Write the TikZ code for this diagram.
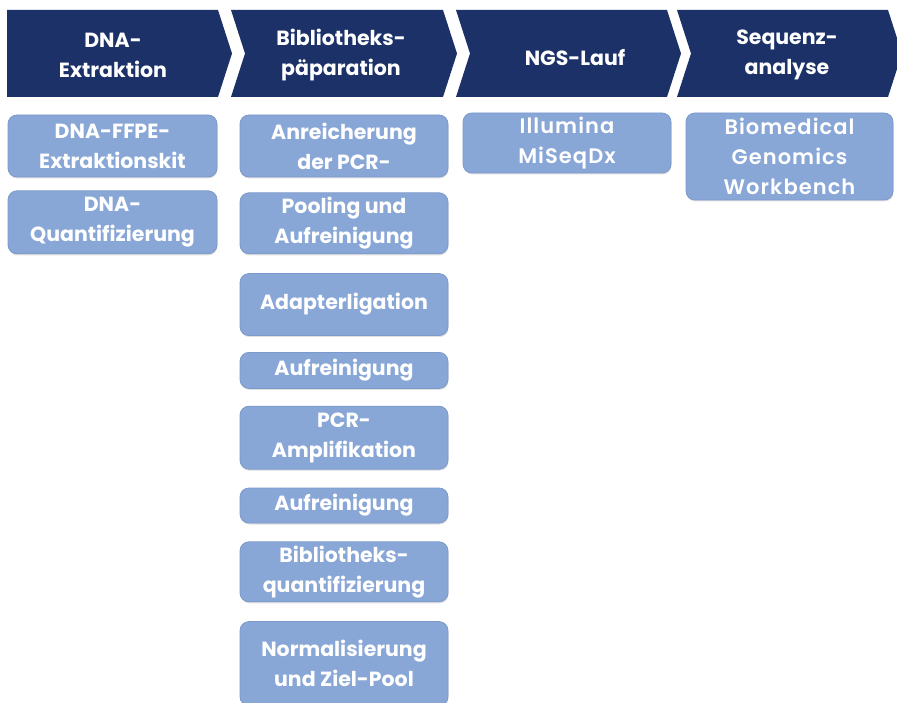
\documentclass[tikz,border=0pt]{standalone}
\usepackage{fontspec}
\setmainfont{Poppins}[BoldFont={Poppins Bold}]
\newfontfamily\spacedfont{Poppins SemiBold}[LetterSpace=5]
\usetikzlibrary{positioning,shadows}
\definecolor{qiaNavy}{HTML}{1C3168}
\definecolor{qiaBlue}{HTML}{88A6D6}
\definecolor{qiaEdge}{HTML}{7B99CB}

\tikzset{
  stage/.style={fill=qiaNavy},
  stagelabel/.style={text=white,font=\bfseries\fontsize{20.5}{30}\selectfont,align=center},
  box/.style={draw=qiaEdge,fill=qiaBlue,line width=0.8pt,rounded corners=9pt,
              text=white,font=\bfseries\fontsize{20.5}{30}\selectfont,align=center,
              inner sep=2pt,minimum width=208pt,
              drop shadow={shadow xshift=0.5pt,shadow yshift=-1.5pt,opacity=0.25}},
  spaced/.style={font=\spacedfont\fontsize{21}{30}\selectfont},
}

\begin{document}
\begin{tikzpicture}[x=1pt,y=-1pt]
  \useasboundingbox (0,0) rectangle (897,703);

  % header chevrons
  \fill[stage] (7,10) -- (218,10) -- (232,53.5) -- (218,97) -- (7,97) -- cycle;
  \fill[stage] (231,10) -- (443,10) -- (457,53.5) -- (443,97) -- (231,97) -- (245,53.5) -- cycle;
  \fill[stage] (456,10) -- (667,10) -- (681,53.5) -- (667,97) -- (456,97) -- (470,53.5) -- cycle;
  \fill[stage] (677,10) -- (888,10) -- (902,53.5) -- (888,97) -- (677,97) -- (691,53.5) -- cycle;

  \node[stagelabel] (h1) at (113,55) {DNA-\\Extraktion};
  \node[stagelabel] (h2) at (341,55) {Bibliotheks-\\päparation};
  \node[stagelabel] (h3) at (575,58) {NGS-Lauf};
  \node[stagelabel] (h4) at (787,55) {Sequenz-\\analyse};

  % DNA-Extraktion
  \node[box,minimum width=209pt,minimum height=62pt] (ffpe) at (112.5,146) {DNA-FFPE-\\Extraktionskit};
  \node[box,minimum width=209pt,minimum height=63pt,below=13pt of ffpe] (quant) {DNA-\\Quantifizierung};

  % Bibliothekspraeparation
  \node[box,minimum height=62pt] (anr) at (344,146) {Anreicherung\\der PCR-};
  \node[box,minimum height=61pt,below=15pt of anr] (pool) {Pooling und\\Aufreinigung};
  \node[box,minimum height=62pt,below=19pt of pool] (adapt) {Adapterligation};
  \node[box,minimum height=36pt,below=16pt of adapt] (auf1) {Aufreinigung};
  \node[box,minimum height=63pt,below=17pt of auf1] (pcr) {PCR-\\Amplifikation};
  \node[box,minimum height=35pt,below=18pt of pcr] (auf2) {Aufreinigung};
  \node[box,minimum height=60pt,below=18pt of auf2] (bibq) {Bibliotheks-\\quantifizierung};
  \node[box,minimum height=84pt,below=19pt of bibq] (norm) {Normalisierung\\und Ziel-Pool};

  % NGS-Lauf, Sequenzanalyse
  \node[box,spaced,minimum height=60pt] (miseq) at (567,143) {Illumina\\MiSeqDx};
  \node[box,spaced,minimum width=207pt,minimum height=87pt] (bgw) at (789.5,156.5) {Biomedical\\Genomics\\Workbench};
\end{tikzpicture}
\end{document}
